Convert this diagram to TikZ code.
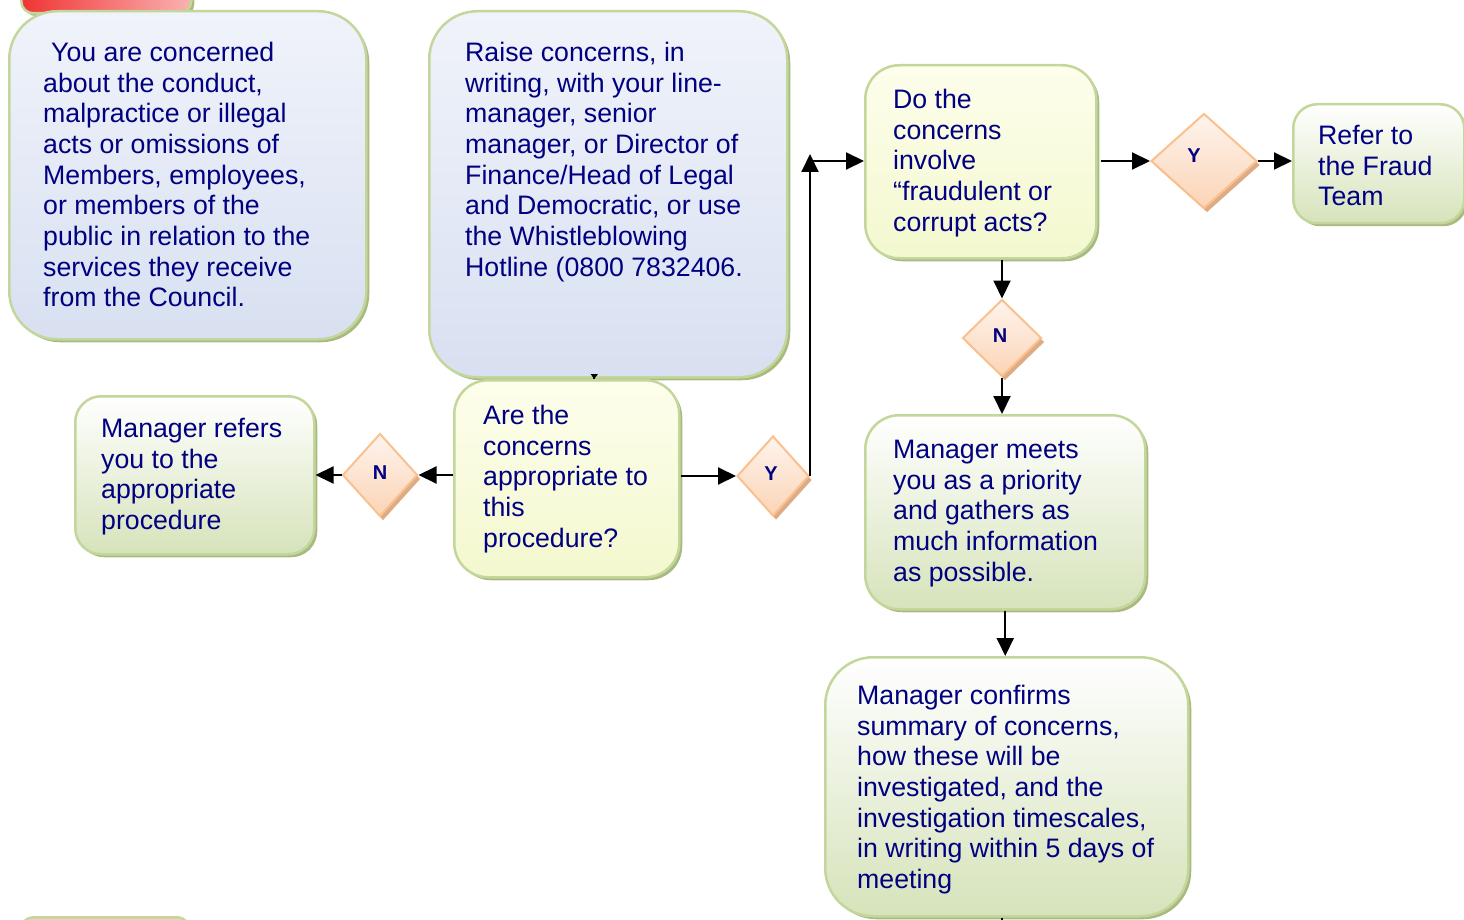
\documentclass[tikz,border=0pt]{standalone}
\usepackage{fontspec}
\setmainfont{Liberation Sans}
\usetikzlibrary{shapes.geometric,arrows.meta}

\definecolor{txtnavy}{RGB}{0,0,128}
\definecolor{edgegreen}{RGB}{195,214,155}
\definecolor{shadowgreen}{RGB}{168,186,128}
\definecolor{blueTop}{RGB}{240,243,250}
\definecolor{blueBot}{RGB}{216,224,241}
\definecolor{yellowTop}{RGB}{253,254,236}
\definecolor{yellowBot}{RGB}{243,248,206}
\definecolor{greenTop}{RGB}{255,255,255}
\definecolor{greenBot}{RGB}{214,227,186}
\definecolor{peachedge}{RGB}{250,192,144}
\definecolor{peachTop}{RGB}{254,244,237}
\definecolor{peachBot}{RGB}{251,212,182}
\definecolor{peachshadow}{RGB}{222,172,132}
\definecolor{redL}{RGB}{240,52,52}
\definecolor{redR}{RGB}{250,178,178}
\definecolor{pinkfill}{RGB}{248,204,196}

\begin{document}
\begin{tikzpicture}[x=1pt,y=-1pt,
  card/.style={rectangle, draw=edgegreen, line width=2.5pt, anchor=north west, inner sep=0pt,
    preaction={fill=shadowgreen, transform canvas={shift={(3pt,-3pt)}}}},
  bluecard/.style={card, top color=blueTop, bottom color=blueBot},
  yellowcard/.style={card, top color=yellowTop, bottom color=yellowBot},
  greencard/.style={card, top color=greenTop, bottom color=greenBot},
  words/.style={anchor=north west, inner sep=0pt, align=left, text=txtnavy,
    font=\fontsize{26.7}{30.65}\selectfont},
  choice/.style={diamond, draw=peachedge, line width=2pt, top color=peachTop, bottom color=peachBot,
    inner sep=0pt, preaction={fill=peachshadow, transform canvas={shift={(3pt,-4pt)}}}},
  letter/.style={inner sep=0pt, text=txtnavy, font=\bfseries\fontsize{20}{24}\selectfont},
  link/.style={-{Triangle[length=18pt,width=17pt]}, line width=2pt, black},
]
\useasboundingbox (0,0) rectangle (1464,920);
\clip (0,0) rectangle (1464,920);

% cards cut by the page edges
\node[card, rounded corners=12pt, minimum width=170pt, minimum height=50pt,
  left color=redL, right color=redR] (topstub) at (20,-38) {};
\node[card, rounded corners=12pt, minimum width=168pt, minimum height=60pt,
  fill=pinkfill] (bottomstub) at (20,916) {};

% process cards
\node[bluecard, rounded corners=48pt, minimum width=357pt, minimum height=328pt] (concern) at (8,10) {};
\node[bluecard, rounded corners=48pt, minimum width=358pt, minimum height=366pt] (raise) at (428,10) {};
\node[yellowcard, rounded corners=34pt, minimum width=225pt, minimum height=197pt] (appropriate) at (453,379) {};
\node[greencard, rounded corners=26pt, minimum width=239pt, minimum height=158pt] (refers) at (74,395) {};
\node[yellowcard, rounded corners=34pt, minimum width=231pt, minimum height=193pt] (fraudq) at (864,64) {};
\node[greencard, rounded corners=24pt, minimum width=171pt, minimum height=119pt] (fraudteam) at (1292,103) {};
\node[greencard, rounded corners=34pt, minimum width=280pt, minimum height=194pt] (meets) at (864,414) {};
\node[greencard, rounded corners=48pt, minimum width=363pt, minimum height=259pt] (confirms) at (824,656) {};

% card texts
\node[words] (concernText) at (43,42) {\hspace*{8pt}You are concerned\\about the conduct,\\malpractice or illegal\\acts or omissions of\\Members, employees,\\or members of the\\public in relation to the\\services they receive\\from the Council.};
\node[words] (raiseText) at (465,42) {Raise concerns, in\\writing, with your line-\\manager, senior\\manager, or Director of\\Finance/Head of Legal\\and Democratic, or use\\the Whistleblowing\\Hotline (0800 7832406.};
\node[words] (appropriateText) at (483,405) {Are the\\concerns\\appropriate to\\this\\procedure?};
\node[words] (refersText) at (101,418) {Manager refers\\you to the\\appropriate\\procedure};
\node[words] (fraudqText) at (893,89) {Do the\\concerns\\involve\\“fraudulent or\\corrupt acts?};
\node[words] (fraudteamText) at (1318,125) {Refer to\\the Fraud\\Team};
\node[words] (meetsText) at (893,440) {Manager meets\\you as a priority\\and gathers as\\much information\\as possible.};
\node[words] (confirmsText) at (857,685) {Manager confirms\\summary of concerns,\\how these will be\\investigated, and the\\investigation timescales,\\in writing within 5 days of\\meeting};

% decisions
\node[choice, minimum width=75pt, minimum height=83pt] (nleft) at (380,475) {};
\node[choice, minimum width=72pt, minimum height=80pt] (ymid) at (773,476) {};
\node[choice, minimum width=106pt, minimum height=95pt] (ytop) at (1204,161) {};
\node[choice, minimum width=79pt, minimum height=77pt] (nmid) at (1002,338) {};
\node[letter] (nleftL) at (380,473) {N};
\node[letter] (ymidL) at (771,474) {Y};
\node[letter] (ytopL) at (1194,156) {Y};
\node[letter] (nmidL) at (1000,336) {N};

% connectors
\draw[line width=2pt, -{Triangle[length=5pt,width=7pt]}]
  ([xshift=-14pt]raise.south) -- ([xshift=-14pt]raise.south |- appropriate.north);
\draw[link] (appropriate.west |- nleft.east) -- (nleft.east);
\draw[link] (nleft.west) -- (nleft.west -| refers.east);
\draw[link] (appropriate.east |- ymid.west) -- (ymid.west);
\coordinate (riseTop) at (809,154);
\coordinate (bend) at (809,161);
\draw[link] (ymid.east) -- (ymid.east |- riseTop);
\draw[link] (bend) -- (bend -| fraudq.west);
\draw[link] ([xshift=3pt]fraudq.east |- ytop.west) -- (ytop.west);
\draw[link] (ytop.east) -- (ytop.east -| fraudteam.west);
\draw[link] (nmid.north |- fraudq.south) -- (nmid.north);
\draw[link] (nmid.south) -- (nmid.south |- meets.north);
\draw[link] (meets.south) -- (meets.south |- confirms.north);
\coordinate (offpage) at (1002,940);
\draw[line width=2pt] (confirms.south -| offpage) -- (offpage);
\end{tikzpicture}
\end{document}
